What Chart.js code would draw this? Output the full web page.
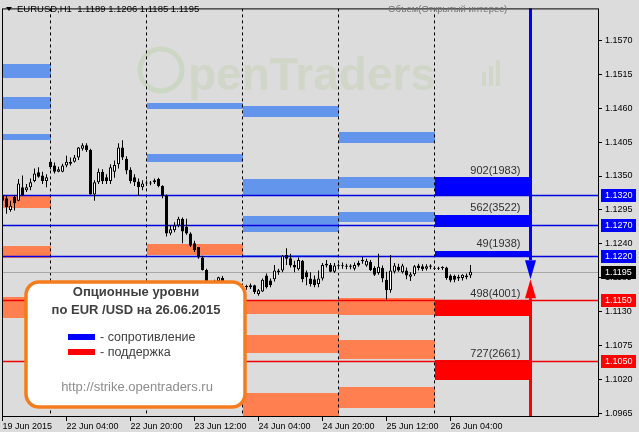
<!DOCTYPE html>
<html>
<head>
<meta charset="utf-8">
<script src="https://cdn.jsdelivr.net/npm/chart.js@4.4.0/dist/chart.umd.min.js"></script>
<style>
html, body { margin: 0; padding: 0; background: #dcdcdc; }
</style>
</head>
<body>
<canvas id="myChart" width="639" height="432"></canvas>
<script>
// H1 candles, bar 0 = 19 Jun 12:00
const opens = [1.1310,1.1314,1.1295,1.1316,1.1310,1.1332,1.1327,1.1332,1.1342,1.1356,1.1351,1.1342,
  1.1373,1.1367,1.1357,1.1357,1.1367,1.1370,1.1373,1.1380,1.1394,1.1400,1.1392,1.1320,1.1340,1.1357,1.1348,1.1342,1.1357,1.1369,1.1396,1.1378,1.1360,1.1348,1.1341,1.1332,
  1.1338,1.1338,1.1340,1.1345,1.1334,1.1318,1.1257,1.1262,1.1270,1.1281,1.1268,1.1257,1.1241,1.1235,1.1218,1.1198,1.1178,1.1172,1.1180,1.1185,1.1174,1.1165,1.1170,1.1167,
  1.1172,1.1170,1.1170,1.1173,1.1159,1.1163,1.1189,1.1181,1.1183,1.1194,1.1197,1.1222,1.1217,1.1206,1.1199,1.1213,1.1194,1.1184,1.1183,1.1175,1.1184,1.1208,1.1206,1.1195,
  1.1205,1.1204,1.1205,1.1203,1.1200,1.1209,1.1214,1.1205,1.1211,1.1201,1.1193,1.1201,1.1182,1.1165,1.1195,1.1203,1.1194,1.1197,1.1187,1.1191,1.1205,1.1204,1.1200,1.1203,
  1.1201,1.1200,1.1201,1.1202,1.1189,1.1188,1.1187,1.1185,1.1189,1.1189]
const highs = [1.1321,1.1318,1.1310,1.1319,1.1345,1.1351,1.1337,1.1346,1.1362,1.1364,1.1357,1.1353,
  1.1376,1.1372,1.1365,1.1370,1.1383,1.1380,1.1384,1.1397,1.1403,1.1403,1.1394,1.1343,1.1362,1.1361,1.1353,1.1369,1.1375,1.1403,1.1408,1.1382,1.1364,1.1353,1.1346,1.1343,
  1.1343,1.1342,1.1346,1.1347,1.1335,1.1320,1.1270,1.1275,1.1284,1.1283,1.1281,1.1259,1.1245,1.1235,1.1221,1.1200,1.1180,1.1182,1.1187,1.1188,1.1178,1.1175,1.1178,1.1175,
  1.1176,1.1174,1.1176,1.1174,1.1167,1.1184,1.1192,1.1184,1.1206,1.1200,1.1222,1.1233,1.1224,1.1213,1.1218,1.1214,1.1197,1.1194,1.1189,1.1197,1.1209,1.1214,1.1209,1.1209,
  1.1208,1.1210,1.1208,1.1207,1.1210,1.1213,1.1219,1.1216,1.1214,1.1204,1.1224,1.1205,1.1195,1.1222,1.1209,1.1208,1.1208,1.1202,1.1194,1.1206,1.1208,1.1207,1.1207,1.1207,
  1.1204,1.1203,1.1204,1.1203,1.1191,1.1190,1.1190,1.1191,1.1192,1.1206]
const lows = [1.1306,1.1289,1.1292,1.1294,1.1309,1.1318,1.1324,1.1327,1.1340,1.1347,1.1337,1.1332,
  1.1361,1.1354,1.1356,1.1356,1.1364,1.1367,1.1372,1.1376,1.1391,1.1389,1.1320,1.1310,1.1337,1.1337,1.1337,1.1337,1.1347,1.1362,1.1376,1.1353,1.1338,1.1334,1.1318,1.1327,
  1.1334,1.1335,1.1337,1.1332,1.1314,1.1252,1.1254,1.1259,1.1267,1.1241,1.1255,1.1235,1.1227,1.1216,1.1197,1.1173,1.1162,1.1168,1.1176,1.1170,1.1160,1.1158,1.1163,1.1160,
  1.1165,1.1166,1.1167,1.1159,1.1156,1.1162,1.1168,1.1170,1.1179,1.1190,1.1194,1.1206,1.1202,1.1194,1.1197,1.1178,1.1173,1.1171,1.1170,1.1170,1.1181,1.1202,1.1194,1.1193,
  1.1200,1.1200,1.1199,1.1199,1.1197,1.1203,1.1208,1.1203,1.1196,1.1188,1.1190,1.1178,1.1150,1.1161,1.1192,1.1195,1.1192,1.1183,1.1180,1.1188,1.1197,1.1196,1.1197,1.1199,
  1.1198,1.1198,1.1198,1.1182,1.1178,1.1178,1.1180,1.1181,1.1183,1.1185]
const closes = [1.1318,1.1300,1.1302,1.1306,1.1338,1.1319,1.1332,1.1340,1.1354,1.1349,1.1342,1.1348,
  1.1364,1.1357,1.1361,1.1367,1.1373,1.1373,1.1380,1.1396,1.1400,1.1392,1.1320,1.1340,1.1357,1.1342,1.1342,1.1364,1.1368,1.1396,1.1380,1.1359,1.1342,1.1340,1.1332,1.1338,
  1.1338,1.1339,1.1343,1.1334,1.1318,1.1257,1.1264,1.1270,1.1281,1.1260,1.1257,1.1237,1.1230,1.1218,1.1198,1.1178,1.1165,1.1180,1.1186,1.1174,1.1165,1.1170,1.1167,1.1172,
  1.1170,1.1172,1.1173,1.1162,1.1165,1.1182,1.1170,1.1173,1.1197,1.1197,1.1221,1.1216,1.1205,1.1202,1.1214,1.1183,1.1186,1.1175,1.1173,1.1184,1.1206,1.1205,1.1195,1.1205,
  1.1204,1.1205,1.1203,1.1205,1.1206,1.1205,1.1212,1.1213,1.1198,1.1190,1.1203,1.1184,1.1165,1.1197,1.1205,1.1197,1.1205,1.1189,1.1191,1.1204,1.1201,1.1199,1.1204,1.1205,
  1.1200,1.1201,1.1202,1.1185,1.1181,1.1182,1.1184,1.1190,1.1186,1.1195]

const timeTicks = [0, 16, 32, 48, 64, 80, 96, 112]
const timeLabels = ["19 Jun 2015", "22 Jun 04:00", "22 Jun 20:00", "23 Jun 12:00", "24 Jun 04:00", "24 Jun 20:00", "25 Jun 12:00", "26 Jun 04:00"]
const dayStarts = [12, 36, 60, 84, 108]
const priceTicks = [1.1570, 1.1515, 1.1460, 1.1405, 1.1350, 1.1295, 1.1240, 1.1185, 1.1130, 1.1075, 1.1020, 1.0965]
const yMin = 1.09598
const yMax = 1.16214

// older option zones: [day start bar, low, high]
const oldResistance = [
  [-12, 1.1508, 1.1531], [-12, 1.1459, 1.1478], [-12, 1.1408, 1.1418],
  [36, 1.1458, 1.1469], [36, 1.1373, 1.1386],
  [60, 1.1446, 1.1464], [60, 1.1319, 1.1345], [60, 1.1259, 1.1286], [60, 1.1219, 1.1222],
  [84, 1.1404, 1.1421], [84, 1.1330, 1.1348], [84, 1.1275, 1.1292]
]
const oldSupport = [
  [-12, 1.1298, 1.1318], [-12, 1.1217, 1.1236], [-12, 1.1120, 1.1154],
  [36, 1.1222, 1.1240],
  [60, 1.1127, 1.1148], [60, 1.1063, 1.1093], [60, 1.0950, 1.0998],
  [84, 1.1125, 1.1152], [84, 1.1054, 1.1084], [84, 1.0974, 1.1009]
]
// today's zones 26.06.2015
const todayStart = 108
const todayResistance = [[1.1318, 1.1348], [1.1268, 1.1287], [1.1219, 1.1229]]
const todaySupport = [[1.1124, 1.1149], [1.1019, 1.1052]]
const todayResistanceText = ["902(1983)", "562(3522)", "49(1938)"]
const todaySupportText = ["498(4001)", "727(2661)"]
const resistanceLevels = [1.1320, 1.1270, 1.1220]
const supportLevels = [1.1150, 1.1050]
const bid = 1.1195
const arrowMid = 1.1183

const BLUE = "#0000ff"
const RED = "#ff0000"
const LIGHT_BLUE = "#6495ed"
const CORAL = "#ff7f50"
const FONT = "'Liberation Sans', Arial, sans-serif"

const bodies = opens.map((o, i) => ({x: i, y: [o, closes[i]]}))
const wicks = lows.map((l, i) => ({x: i, y: [l, highs[i]]}))

function roundRect(ctx, x, y, w, h, r) {
    ctx.beginPath()
    ctx.moveTo(x + r, y)
    ctx.arcTo(x + w, y, x + w, y + h, r)
    ctx.arcTo(x + w, y + h, x, y + h, r)
    ctx.arcTo(x, y + h, x, y, r)
    ctx.arcTo(x, y, x + w, y, r)
    ctx.closePath()
}

const overlay = {
    id: "overlay",
    beforeDatasetsDraw(chart) {
        const {ctx, chartArea: a, scales: {x, y}} = chart
        ctx.save()
        ctx.beginPath()
        ctx.rect(a.left, a.top, a.right - a.left, a.bottom - a.top)
        ctx.clip()

        // watermark
        ctx.strokeStyle = "rgba(175,205,150,0.35)"
        ctx.lineWidth = 5
        ctx.beginPath()
        ctx.arc(161, 70, 21, 0, Math.PI * 2)
        ctx.stroke()
        ctx.fillStyle = "rgba(185,205,165,0.35)"
        ctx.font = "bold 46px " + FONT
        ctx.textBaseline = "alphabetic"
        ctx.fillText("penTraders", 188, 90)
        ctx.fillRect(482, 72, 4, 14)
        ctx.fillRect(489, 66, 4, 20)
        ctx.fillRect(496, 60, 4, 26)

        const zone = (b0, b1, p0, p1, color) => {
            const x0 = Math.round(x.getPixelForValue(b0)), x1 = Math.round(x.getPixelForValue(b1))
            const y0 = Math.round(y.getPixelForValue(p1)), y1 = Math.round(y.getPixelForValue(p0))
            ctx.fillStyle = color
            ctx.fillRect(x0, y0, x1 - x0, Math.max(1, y1 - y0))
        }
        oldResistance.forEach(z => zone(z[0], z[0] + 24, z[1], z[2], LIGHT_BLUE))
        oldSupport.forEach(z => zone(z[0], z[0] + 24, z[1], z[2], CORAL))
        todayResistance.forEach(z => zone(todayStart, todayStart + 24, z[0], z[1], BLUE))
        todaySupport.forEach(z => zone(todayStart, todayStart + 24, z[0], z[1], RED))

        // day separators
        ctx.strokeStyle = "#000"
        ctx.lineWidth = 1
        ctx.setLineDash([3, 3])
        dayStarts.forEach(d => {
            const px = Math.floor(x.getPixelForValue(d)) + 0.5
            ctx.beginPath()
            ctx.moveTo(px, a.top)
            ctx.lineTo(px, a.bottom)
            ctx.stroke()
        })
        ctx.setLineDash([])

        const hline = (p, color, w) => {
            const py = Math.round(y.getPixelForValue(p)) + 0.5
            ctx.strokeStyle = color
            ctx.lineWidth = w
            ctx.beginPath()
            ctx.moveTo(a.left, py)
            ctx.lineTo(a.right, py)
            ctx.stroke()
        }
        hline(bid, "#a8a8a8", 1)
        resistanceLevels.forEach(p => hline(p, "#0000e0", 1.5))
        supportLevels.forEach(p => hline(p, "#ee0000", 1.5))
        ctx.restore()
    },
    afterDatasetsDraw(chart) {
        const {ctx, chartArea: a, scales: {x, y}} = chart
        ctx.save()

        // zone labels
        ctx.font = "11px " + FONT
        ctx.fillStyle = "#303030"
        ctx.textAlign = "right"
        ctx.textBaseline = "bottom"
        const tx = x.getPixelForValue(todayStart + 21.5)
        todayResistance.forEach((z, i) => ctx.fillText(todayResistanceText[i], tx, y.getPixelForValue(z[1]) - 1))
        todaySupport.forEach((z, i) => ctx.fillText(todaySupportText[i], tx, y.getPixelForValue(z[1]) - 1))

        // arrows
        const ax = x.getPixelForValue(todayStart + 24)
        const mid = y.getPixelForValue(arrowMid)
        ctx.fillStyle = BLUE
        ctx.fillRect(ax - 1.5, a.top, 3, mid - 19 - a.top)
        ctx.beginPath()
        ctx.moveTo(ax - 5.5, mid - 19)
        ctx.lineTo(ax + 5.5, mid - 19)
        ctx.lineTo(ax, mid)
        ctx.fill()
        ctx.fillStyle = RED
        ctx.fillRect(ax - 1.5, mid + 19, 3, a.bottom - mid - 19)
        ctx.beginPath()
        ctx.moveTo(ax - 5.5, mid + 19)
        ctx.lineTo(ax + 5.5, mid + 19)
        ctx.lineTo(ax, mid)
        ctx.fill()

        // info box
        roundRect(ctx, 26, 282, 219, 125, 13)
        ctx.fillStyle = "#ffffff"
        ctx.fill()
        ctx.strokeStyle = "#f47c1c"
        ctx.lineWidth = 3.5
        ctx.stroke()
        ctx.textAlign = "center"
        ctx.textBaseline = "middle"
        ctx.fillStyle = "#404040"
        ctx.font = "bold 13px " + FONT
        ctx.fillText("Опционные уровни", 136, 292)
        ctx.fillText("по EUR /USD на 26.06.2015", 136, 310)
        ctx.fillStyle = BLUE
        ctx.fillRect(68, 334, 27, 6)
        ctx.fillStyle = RED
        ctx.fillRect(68, 349, 27, 6)
        ctx.textAlign = "left"
        ctx.fillStyle = "#404040"
        ctx.font = "12.5px " + FONT
        ctx.fillText("- сопротивление", 100, 338)
        ctx.fillText("- поддержка", 100, 353)
        ctx.textAlign = "center"
        ctx.fillStyle = "#8c8c8c"
        ctx.font = "13px " + FONT
        ctx.fillText("http://strike.opentraders.ru", 137, 387)
        ctx.restore()
    },
    afterDraw(chart) {
        const {ctx, chartArea: a, scales: {y}} = chart
        ctx.save()
        ctx.strokeStyle = "#000"
        ctx.lineWidth = 1
        ctx.strokeRect(a.left + 0.5, a.top + 0.5, a.right - a.left - 1, a.bottom - a.top - 1)

        // price tags
        const tag = (p, bg) => {
            const py = Math.round(y.getPixelForValue(p))
            ctx.fillStyle = bg
            ctx.fillRect(a.right + 2, py - 6, 35, 13)
            ctx.fillStyle = "#fff"
            ctx.font = "9px " + FONT
            ctx.textAlign = "left"
            ctx.textBaseline = "middle"
            ctx.fillText(p.toFixed(4), a.right + 6, py + 0.5)
        }
        resistanceLevels.forEach(p => tag(p, BLUE))
        supportLevels.forEach(p => tag(p, RED))
        tag(bid, "#000")

        // header
        ctx.fillStyle = "#000"
        ctx.beginPath()
        ctx.moveTo(6, 7)
        ctx.lineTo(12, 7)
        ctx.lineTo(9, 11)
        ctx.fill()
        ctx.font = "9.5px " + FONT
        ctx.textAlign = "left"
        ctx.textBaseline = "middle"
        ctx.fillText("EURUSD,H1  1.1189 1.1206 1.1185 1.1195", 17, 9.5)
        ctx.fillStyle = "#707070"
        ctx.fillText("Объем(Открытый интерес)", 388, 9.5)
        ctx.restore()
    }
}

new Chart(document.getElementById("myChart").getContext("2d"), {
    type: "bar",
    data: {
        datasets: [
            {
                label: "body",
                data: bodies,
                backgroundColor: c => closes[c.dataIndex] >= opens[c.dataIndex] ? "#ffffff" : "#000000",
                borderColor: "#000000",
                borderWidth: 1,
                borderSkipped: false,
                inflateAmount: 0,
                minBarLength: 1,
                maxBarThickness: 3,
                barPercentage: 1,
                categoryPercentage: 1,
                grouped: false
            },
            {
                label: "wick",
                data: wicks,
                backgroundColor: "#000000",
                borderWidth: 0,
                inflateAmount: 0,
                minBarLength: 1,
                maxBarThickness: 1,
                barPercentage: 1,
                categoryPercentage: 1,
                grouped: false
            }
        ]
    },
    options: {
        responsive: false,
        animation: false,
        layout: { padding: { left: 2, top: 1, right: 0, bottom: 0 } },
        plugins: { legend: { display: false }, tooltip: { enabled: false } },
        scales: {
            x: {
                type: "linear",
                offset: false,
                min: -0.125,
                max: 149.125,
                afterBuildTicks: s => { s.ticks = timeTicks.map(v => ({value: v})) },
                afterFit: s => { s.height = 15 },
                grid: { offset: false, drawOnChartArea: false, tickLength: 4, color: "#000" },
                border: { display: false },
                ticks: {
                    autoSkip: false,
                    maxRotation: 0,
                    align: "start",
                    padding: 0,
                    color: "#000",
                    font: { family: FONT, size: 9 },
                    callback: (v, i) => timeLabels[i]
                }
            },
            y: {
                type: "linear",
                position: "right",
                min: yMin,
                max: yMax,
                afterBuildTicks: s => { s.ticks = priceTicks.map(v => ({value: v})) },
                afterFit: s => { s.width = 40 },
                grid: { drawOnChartArea: false, tickLength: 3, color: "#000" },
                border: { display: false },
                ticks: {
                    autoSkip: false,
                    padding: 3,
                    color: "#000",
                    font: { family: FONT, size: 9 },
                    callback: v => v.toFixed(4)
                }
            }
        }
    },
    plugins: [overlay]
})
</script>
</body>
</html>
